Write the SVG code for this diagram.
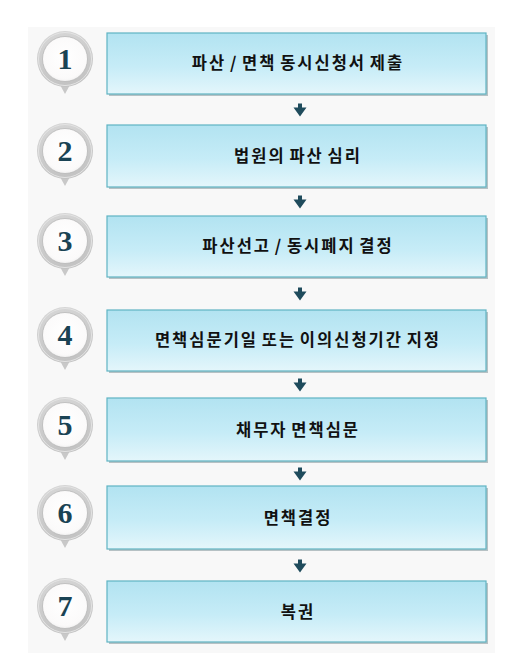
<svg xmlns="http://www.w3.org/2000/svg" width="521" height="667" viewBox="0 0 521 667">
<defs>
<linearGradient id="boxg" x1="0" y1="0" x2="0" y2="1">
<stop offset="0" stop-color="#b2e3f1"/>
<stop offset="0.55" stop-color="#c6ecf7"/>
<stop offset="1" stop-color="#e4f6fb"/>
</linearGradient>
<linearGradient id="ringg" x1="0.3" y1="0" x2="0.6" y2="1">
<stop offset="0" stop-color="#d6d6d6"/>
<stop offset="1" stop-color="#c2c2c2"/>
</linearGradient>
<radialGradient id="inng" cx="0.5" cy="0.45" r="0.6">
<stop offset="0" stop-color="#ffffff"/>
<stop offset="0.8" stop-color="#fbfafa"/>
<stop offset="1" stop-color="#ececec"/>
</radialGradient>
<g id="badge">
<path d="M-6,24 L0,35 L6,24 Z" fill="#c8c8c8"/>
<circle r="28" fill="url(#ringg)"/>
<circle r="26.5" fill="none" stroke="#e4e4e4" stroke-width="1"/>
<circle r="22.5" fill="url(#inng)" stroke="#b8b8b8" stroke-width="0.8"/>
</g>
<path id="arr" d="M-2,-6.5 H2 V-2.5 H6.5 L0,6.5 L-6.5,-2.5 H-2 Z" fill="#1f4b5c"/>
</defs>
<style>
.shadow{fill:#7f9499;opacity:0.55}
.box{fill:url(#boxg);stroke:#5fb4c3;stroke-width:1.2}
.lbl{font-family:"Noto Sans CJK KR","Noto Sans CJK SC",sans-serif;font-weight:bold;font-size:16.5px;fill:#111;text-anchor:middle;letter-spacing:2px;word-spacing:-2px}
.num{font-family:"Liberation Serif","DejaVu Serif",serif;font-weight:bold;font-size:30px;fill:#1a4354;text-anchor:middle}
</style>
<rect x="28" y="27" width="467" height="626" fill="#f8f8f8"/>
<g id="connectors">
<use href="#arr" x="300" y="110"/>
<use href="#arr" x="300" y="202"/>
<use href="#arr" x="300" y="294"/>
<use href="#arr" x="300" y="385"/>
<use href="#arr" x="300" y="474"/>
<use href="#arr" x="300" y="566"/>
</g>
<g id="step1">
<use href="#badge" x="65" y="59"/>
<text class="num" x="65" y="69">1</text>
<rect class="shadow" x="109" y="35" width="379" height="61"/>
<rect class="box" x="107" y="33" width="379" height="61"/>
<text class="lbl" x="298" y="69">파산 / 면책 동시신청서 제출</text>
</g>
<g id="step2">
<use href="#badge" x="65" y="151"/>
<text class="num" x="65" y="161">2</text>
<rect class="shadow" x="109" y="127" width="379" height="62"/>
<rect class="box" x="107" y="125" width="379" height="62"/>
<text class="lbl" x="298" y="162">법원의 파산 심리</text>
</g>
<g id="step3">
<use href="#badge" x="65" y="241"/>
<text class="num" x="65" y="251">3</text>
<rect class="shadow" x="109" y="218" width="379" height="61"/>
<rect class="box" x="107" y="216" width="379" height="61"/>
<text class="lbl" x="298" y="252">파산선고 / 동시폐지 결정</text>
</g>
<g id="step4">
<use href="#badge" x="65" y="335"/>
<text class="num" x="65" y="345">4</text>
<rect class="shadow" x="109" y="312" width="379" height="61"/>
<rect class="box" x="107" y="310" width="379" height="61"/>
<text class="lbl" x="298" y="346">면책심문기일 또는 이의신청기간 지정</text>
</g>
<g id="step5">
<use href="#badge" x="65" y="425"/>
<text class="num" x="65" y="435">5</text>
<rect class="shadow" x="109" y="400" width="379" height="63"/>
<rect class="box" x="107" y="398" width="379" height="63"/>
<text class="lbl" x="298" y="436">채무자 면책심문</text>
</g>
<g id="step6">
<use href="#badge" x="65" y="513"/>
<text class="num" x="65" y="523">6</text>
<rect class="shadow" x="109" y="488" width="379" height="63"/>
<rect class="box" x="107" y="486" width="379" height="63"/>
<text class="lbl" x="298" y="524">면책결정</text>
</g>
<g id="step7">
<use href="#badge" x="65" y="606"/>
<text class="num" x="65" y="616">7</text>
<rect class="shadow" x="109" y="583" width="379" height="61"/>
<rect class="box" x="107" y="581" width="379" height="61"/>
<text class="lbl" x="298" y="618">복권</text>
</g>
</svg>
